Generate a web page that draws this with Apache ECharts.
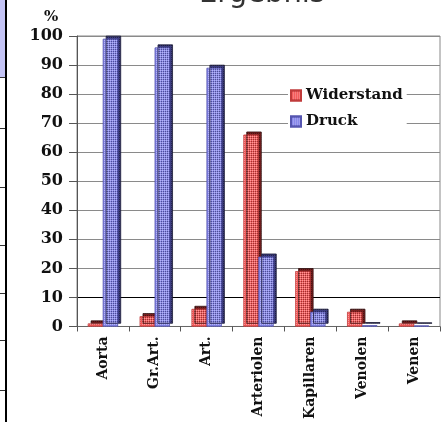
<!DOCTYPE html>
<html>
<head>
<meta charset="utf-8">
<script src="https://cdn.jsdelivr.net/npm/echarts@6/dist/echarts.min.js"></script>
<style>
  html, body { margin: 0; padding: 0; background: #fff; }
  #chart { width: 446px; height: 422px; }
</style>
</head>
<body>
<div id="chart"></div>
<script>
// Kategorien und Werte (in %)
const categories = ['Aorta', 'Gr.Art.', 'Art.', 'Arteriolen', 'Kapillaren', 'Venolen', 'Venen'];
const widerstand = [1, 3.5, 6, 66, 19, 5, 1];
const druck = [99, 96, 89, 24, 5, 0.4, 0.3];
const yTicks = [0, 10, 20, 30, 40, 50, 60, 70, 80, 90, 100];

const serif = 'DejaVu Serif';
const chart = echarts.init(document.getElementById('chart'));

// Punktmuster wie im Original
const dots = {
  symbol: 'rect',
  symbolSize: 1,
  color: 'rgba(255,255,255,0.4)',
  dashArrayX: [1, 1],
  dashArrayY: [1, 1],
  rotation: 0
};

// Gitterlinie bei 10 ist schwarz
const splitColors = yTicks.map((t) => (t === 10 ? '#000' : '#8a8a8a'));

// Striche am linken Rand (Rest der Nachbarfolie)
const edgeMarks = [77, 128, 187, 245, 293, 340, 390].map((y) => ({
  type: 'rect',
  shape: { x: 0, y: y, width: 5, height: 1 },
  style: { fill: '#333' }
}));

chart.setOption({
  animation: false,
  title: {
    text: 'Ergebnis',
    left: 194,
    top: -25,
    textStyle: { fontFamily: 'DejaVu Sans', fontSize: 29, fontWeight: 'normal', color: '#333' }
  },
  legend: {
    orient: 'vertical',
    left: 288,
    top: 86,
    icon: 'rect',
    itemWidth: 10,
    itemHeight: 10,
    itemGap: 11,
    padding: [2, 4, 2, 2],
    backgroundColor: '#fff',
    textStyle: { fontFamily: serif, fontWeight: 'bold', fontSize: 15, color: '#111' },
    data: ['Widerstand', 'Druck']
  },
  grid: {
    left: 77,
    right: 6,
    top: 36,
    bottom: 94,
    show: true,
    borderColor: '#888',
    borderWidth: 1
  },
  xAxis: {
    type: 'category',
    data: categories,
    axisLine: { lineStyle: { color: '#666', width: 1 } },
    axisTick: { show: true, length: 5, lineStyle: { color: '#555' } },
    axisLabel: {
      rotate: 90,
      margin: 10,
      interval: 0,
      fontFamily: serif,
      fontWeight: 'bold',
      fontSize: 14,
      color: '#111'
    }
  },
  yAxis: {
    type: 'value',
    min: 0,
    max: 100,
    interval: 10,
    axisLine: { show: true, lineStyle: { color: '#555' } },
    axisTick: { show: true, length: 8, lineStyle: { color: '#555' } },
    axisLabel: {
      margin: 14,
      fontFamily: serif,
      fontWeight: 'bold',
      fontSize: 16,
      color: '#111'
    },
    splitLine: { lineStyle: { color: splitColors, width: 1.2 } }
  },
  series: [
    {
      name: 'Widerstand',
      type: 'bar',
      data: widerstand,
      barWidth: 15,
      barGap: '0%',
      itemStyle: {
        color: '#f45c5c',
        decal: dots,
        borderColor: '#c03a3a',
        borderWidth: 0.5,
        shadowColor: '#7a2020',
        shadowOffsetX: 3,
        shadowOffsetY: -3
      }
    },
    {
      name: 'Druck',
      type: 'bar',
      data: druck,
      barWidth: 15,
      itemStyle: {
        color: '#8888ea',
        decal: dots,
        borderColor: '#5555b0',
        borderWidth: 0.5,
        shadowColor: '#3d3d80',
        shadowOffsetX: 3,
        shadowOffsetY: -3
      }
    }
  ],
  graphic: [
    { type: 'rect', shape: { x: 0, y: 0, width: 5, height: 77 }, style: { fill: '#c4c4f6' } },
    { type: 'rect', shape: { x: 5, y: 0, width: 2, height: 422 }, style: { fill: '#000' } },
    ...edgeMarks,
    {
      type: 'text',
      left: 44,
      top: 10,
      style: { text: '%', font: 'bold 15px "DejaVu Serif"', fill: '#111' }
    }
  ]
});
</script>
</body>
</html>
